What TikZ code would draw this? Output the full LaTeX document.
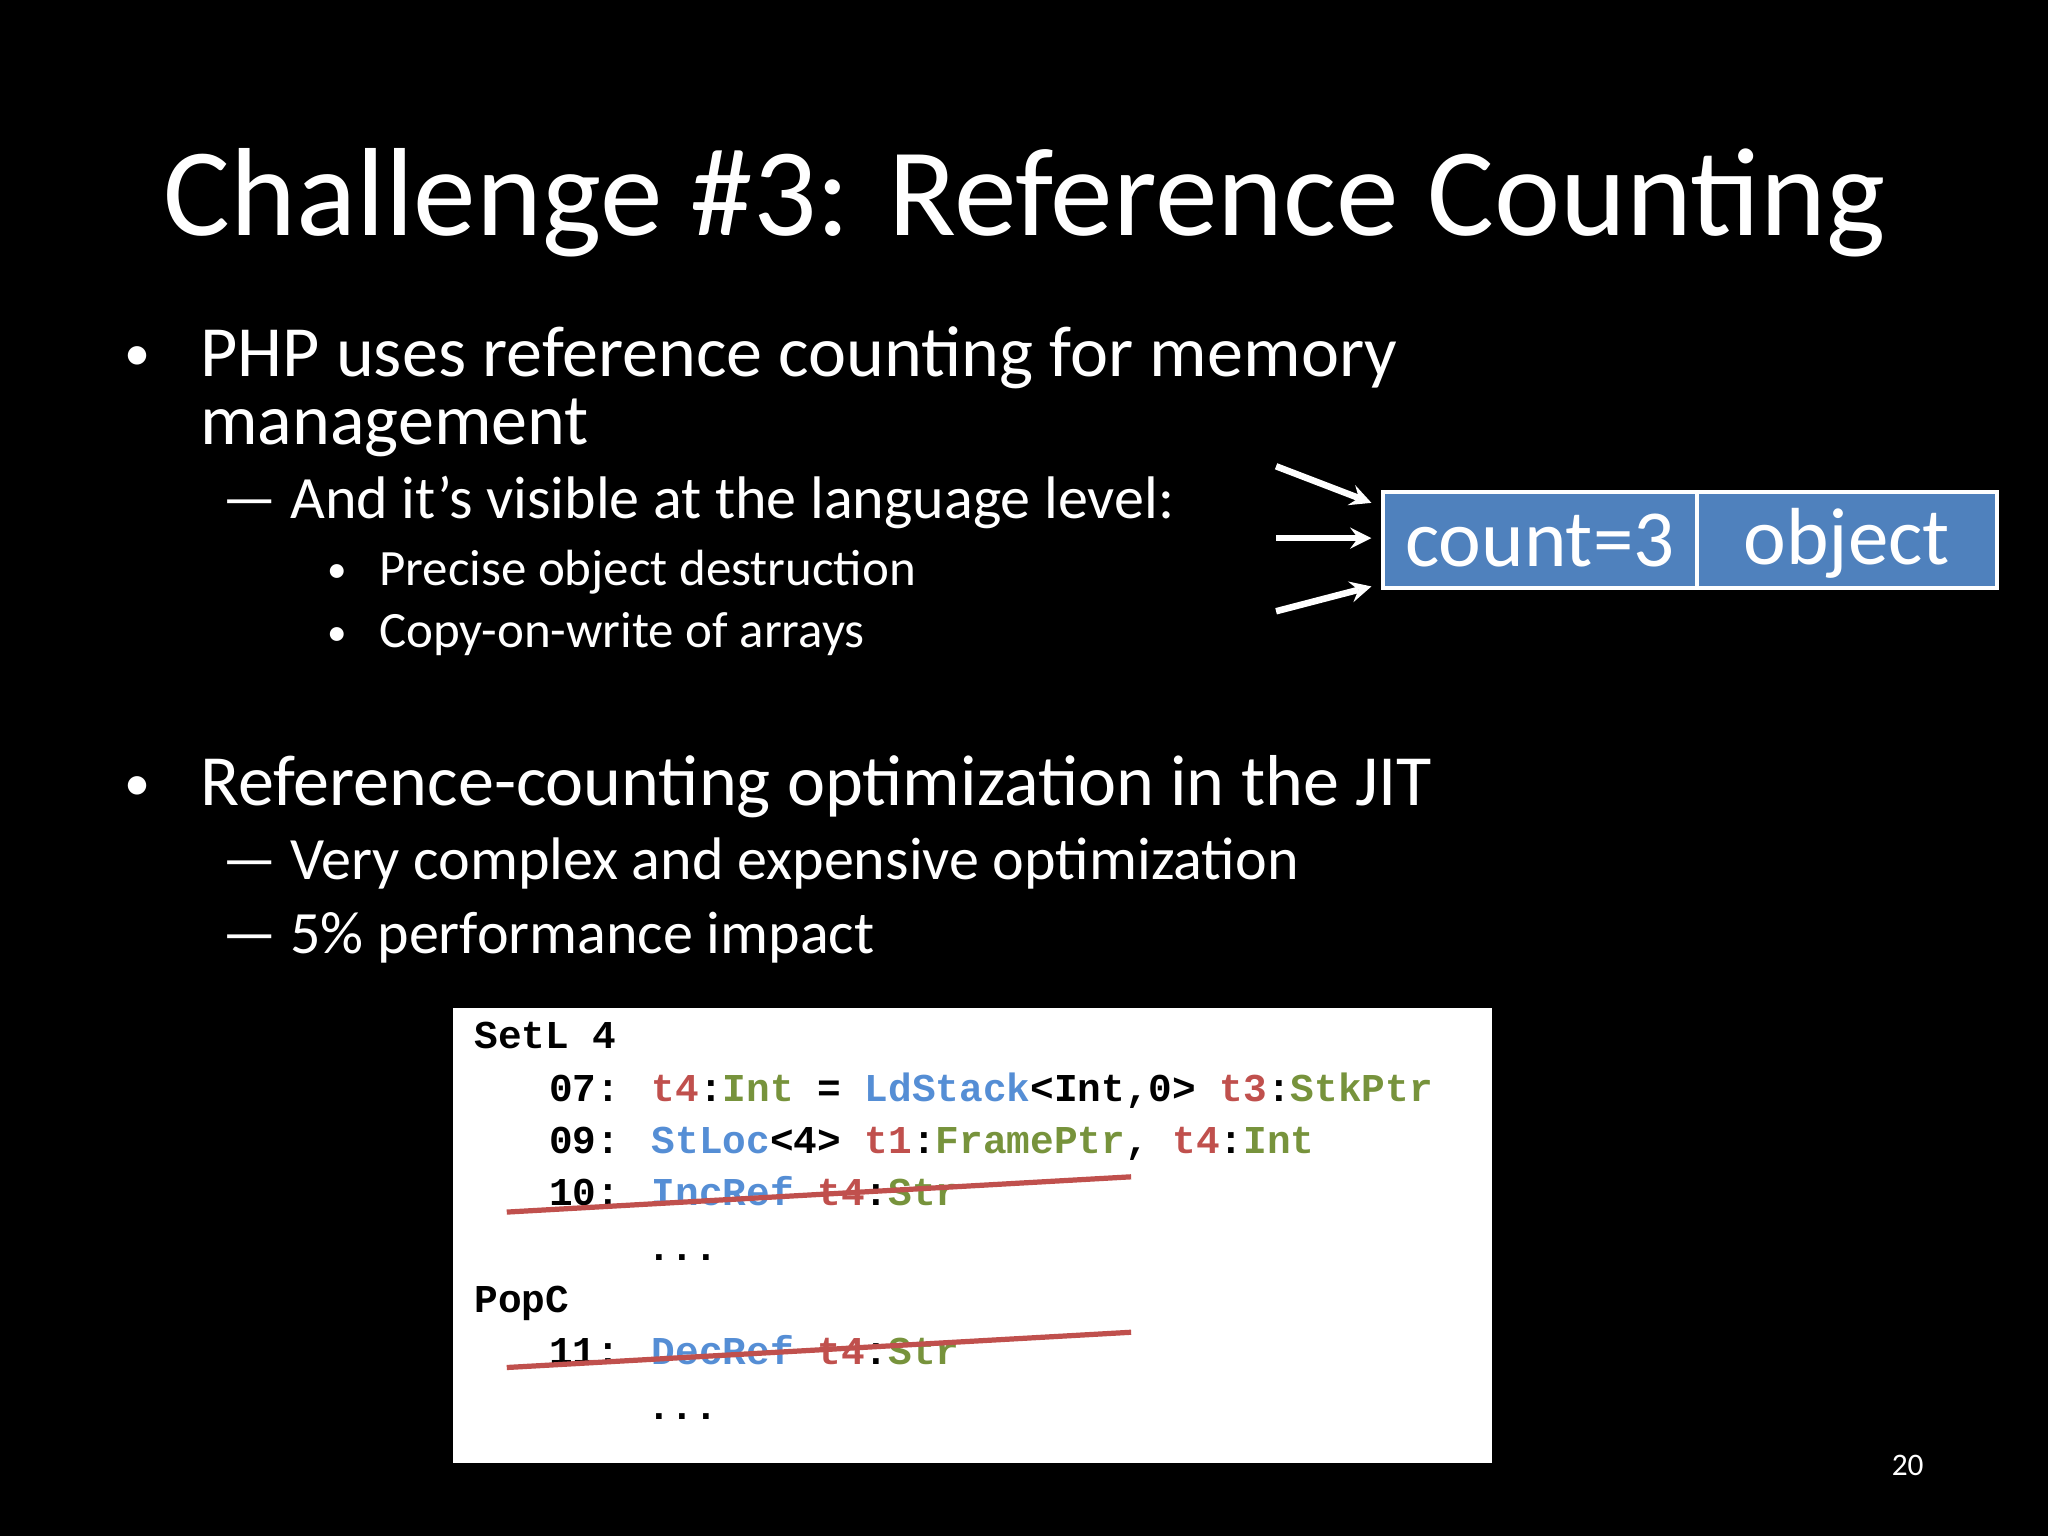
\documentclass[tikz,border=0pt]{standalone}
\usepackage{fontspec}
\setmainfont{Carlito}
\newfontfamily\codefont{Liberation Mono}
\definecolor{cred}{HTML}{C0504D}
\definecolor{cblue}{HTML}{558ED5}
\definecolor{cgreen}{HTML}{77933C}
\definecolor{boxblue}{HTML}{4F81BD}
\newcommand{\R}[1]{\textcolor{cred}{#1}}
\newcommand{\B}[1]{\textcolor{cblue}{#1}}
\newcommand{\G}[1]{\textcolor{cgreen}{#1}}
\begin{document}
\begin{tikzpicture}[x=0.5pt,y=-0.5pt,
  txt/.style={anchor=base west,inner sep=0pt,text=white},
  l1/.style={txt,font=\fontsize{27.6}{34}\selectfont},
  l2/.style={txt,font=\fontsize{23}{28}\selectfont},
  l3/.style={txt,font=\fontsize{19.5}{24}\selectfont},
  bul/.style={txt,font=\fontsize{20}{24}\selectfont},
  code/.style={anchor=base west,inner sep=0pt,text=black,font=\codefont\bfseries\fontsize{15.1}{18}\selectfont},
  arr/.style={draw=white,line width=2.5pt,-stealth},
  strike/.style={draw=cred,line width=2pt}]
\fill[black] (0,0) rectangle (1568,1176);
\useasboundingbox (0,0) rectangle (1568,1176);
\node[txt,font=\fontsize{48}{58}\selectfont] (title) at (125,180) {Challenge \#3: Reference Counting};
\node[bul] (b1) at (95,284) {•};
\node[l1] (t1) at (153,288) {PHP uses reference counting for memory};
\node[l1] (t1b) at (153,340) {management};
\node[l2] (d1) at (170,397) {—};
\node[l2] (s1) at (222,397) {And it’s visible at the language level:};
\node[txt,font=\fontsize{15}{18}\selectfont] (b3a) at (250,446) {•};
\node[l3] (s3a) at (290,448) {Precise object destruction};
\node[txt,font=\fontsize{15}{18}\selectfont] (b3b) at (250,494) {•};
\node[l3] (s3b) at (290,496) {Copy-on-write of arrays};
\node[bul] (b2) at (95,613) {•};
\node[l1] (t2) at (153,617) {Reference-counting optimization in the JIT};
\node[l2] (d2) at (170,673) {—};
\node[l2] (s2) at (222,673) {Very complex and expensive optimization};
\node[l2] (d3) at (170,730) {—};
\node[l2] (s3) at (222,730) {5\% performance impact};
% box
\fill[boxblue] (1059,377) rectangle (1529,450);
\draw[white,line width=1.5pt] (1059,377) rectangle (1529,450) (1299,377) -- (1299,450);
\node[text=white,font=\fontsize{31}{36}\selectfont] (cnt) at (1179,414) {count=3};
\node[text=white,font=\fontsize{31}{36}\selectfont] (obj) at (1414,416) {object};
\coordinate (a1s) at (977,357); \coordinate (a1e) at (1050,385);
\coordinate (a2s) at (977,412); \coordinate (a2e) at (1050,412);
\coordinate (a3s) at (977,468); \coordinate (a3e) at (1050,449);
\draw[arr] (a1s) -- (a1e);
\draw[arr] (a2s) -- (a2e);
\draw[arr] (a3s) -- (a3e);
% code
\fill[white] (347,772) rectangle (1142,1120);
\node[code] (c0) at (363,803) {SetL 4};
\node[code] (c1) at (420,843) {07: \R{t4}:\G{Int} = \B{LdStack}<Int,0> \R{t3}:\G{StkPtr}};
\node[code] (c2) at (420,883) {09: \B{StLoc}<4> \R{t1}:\G{FramePtr}, \R{t4}:\G{Int}};
\node[code] (c3) at (420,923) {10: \B{IncRef} \R{t4}:\G{Str}};
\node[code] (c4) at (495,965) {...};
\node[code] (c5) at (363,1005) {PopC};
\node[code] (c6) at (420,1045) {11: \B{DecRef} \R{t4}:\G{Str}};
\node[code] (c7) at (495,1087) {...};
\coordinate (s1a) at (388,928); \coordinate (s1b) at (866,901);
\coordinate (s2a) at (388,1047); \coordinate (s2b) at (866,1020);
\draw[strike] (s1a) -- (s1b);
\draw[strike] (s2a) -- (s2b);
\node[txt,font=\fontsize{12}{14}\selectfont] (pg) at (1448,1130) {20};
\end{tikzpicture}
\end{document}
